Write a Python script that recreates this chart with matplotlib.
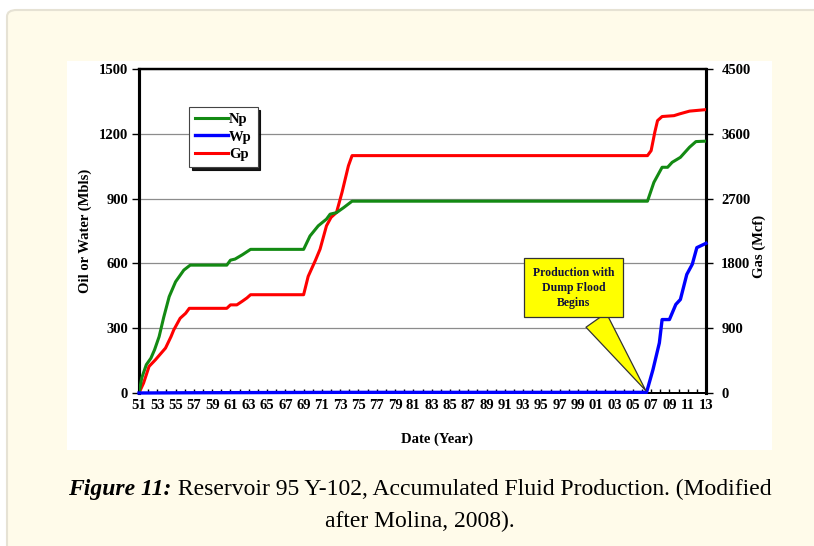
import matplotlib.pyplot as plt
from matplotlib.patches import FancyBboxPatch, Rectangle
from matplotlib.ticker import MultipleLocator

# cumulative oil (Np, Mbls)
np_year = [1951.0, 1951.3, 1951.8, 1952.3, 1952.7, 1953.2, 1953.7, 1954.3, 1955.0,
           1955.9, 1956.6, 1960.6, 1961.0, 1961.5, 1962.3, 1963.2, 1969.0, 1969.7,
           1970.6, 1971.5, 1971.9, 1972.6, 1973.4, 1974.3, 2006.6, 2007.3, 2008.2,
           2008.8, 2009.3, 2010.2, 2011.2, 2011.9, 2013.0]
np_vals = [0, 70, 131, 161, 200, 261, 350, 446, 515, 569, 592, 592, 615, 620, 640,
           665, 665, 727, 774, 805, 828, 835, 859, 888, 888, 975, 1045, 1045, 1068,
           1091, 1138, 1164, 1166]

# cumulative water (Wp, Mbls)
wp_year = [1951.0, 1956.0, 1973.0, 2006.5, 2007.2, 2007.9, 2008.2, 2009.0, 2009.7,
           2010.2, 2010.9, 2011.5, 2012.0, 2013.0]
wp_vals = [0, 1, 3, 3, 108, 232, 340, 340, 410, 433, 549, 596, 673, 693]

# cumulative gas (Gp, Mcf)
gp_year = [1951.0, 1951.5, 1952.1, 1952.8, 1953.9, 1954.5, 1954.8, 1955.5, 1956.1,
           1956.5, 1960.6, 1961.0, 1961.7, 1962.3, 1962.8, 1963.2, 1969.0, 1969.5,
           1970.3, 1970.8, 1971.5, 1972.0, 1972.6, 1973.2, 1973.9, 1974.3, 2006.6,
           2007.0, 2007.4, 2007.7, 2008.2, 2009.5, 2010.1, 2011.2, 2013.0]
gp_vals = [0, 138, 369, 462, 624, 783, 876, 1038, 1107, 1176, 1176, 1224, 1224, 1275,
           1320, 1365, 1365, 1620, 1845, 1998, 2322, 2439, 2508, 2787, 3156, 3297,
           3297, 3366, 3621, 3783, 3840, 3852, 3876, 3915, 3936]

year_ticks = list(range(1951, 2014, 2))
year_labels = [str(y)[-2:] for y in year_ticks]

serif = "Liberation Serif"
W, H = 814, 546

fig = plt.figure(figsize=(W / 100, H / 100), dpi=100, facecolor="white")

# cream page panel with a rounded corner, white plot card on top
fig.patches.append(FancyBboxPatch((7 / W, -0.05), 1.1, 1.05 - 10 / H,
                                  boxstyle="round,pad=0,rounding_size=0.012",
                                  transform=fig.transFigure, fc="#fffbea",
                                  ec="#e6e2d4", lw=1.5, zorder=-3))
fig.patches.append(Rectangle((67 / W, (H - 450) / H), (772 - 67) / W,
                             (450 - 61) / H, transform=fig.transFigure,
                             fc="white", ec="none", zorder=-2))

ax = fig.add_axes([139 / W, (H - 393) / H, 567 / W, 324 / H])
ax2 = ax.twinx()
ax.set_zorder(ax2.get_zorder() + 1)
ax.patch.set_visible(False)

# gas is plotted on the left axis in units scaled 1:3 so the legend holds all three
ax.plot(gp_year, [v / 3 for v in gp_vals], color="#ff0000", lw=2.2, label="_gp", zorder=3)
ax.plot(np_year, np_vals, color="#138a13", lw=2.2, label="Np", zorder=4)
ax.plot(wp_year, wp_vals, color="#0000ff", lw=2.4, label="Wp", zorder=5, clip_on=False)
ax.plot([], [], color="#ff0000", lw=2.2, label="Gp")

ax.set_xlim(1951, 2013)
ax.set_ylim(0, 1500)
ax2.set_ylim(0, 4500)
ax.set_yticks(range(0, 1501, 300))
ax2.set_yticks(range(0, 4501, 900))
ax.set_xticks(year_ticks)
ax.set_xticklabels(year_labels)
ax.xaxis.set_minor_locator(MultipleLocator(1))
ax.yaxis.grid(True, color="#8c8c8c", lw=0.9)
ax.set_axisbelow(True)

for a in (ax, ax2):
    for lbl in a.get_xticklabels() + a.get_yticklabels():
        lbl.set_fontfamily(serif)
        lbl.set_fontweight("bold")
        lbl.set_fontsize(10.5)
ax.tick_params(axis="x", which="both", direction="in", length=3, width=1, pad=4)
ax.tick_params(axis="y", direction="out", length=5, width=1, pad=3)
ax2.tick_params(axis="y", direction="out", length=5, width=1, pad=6)

for a in (ax, ax2):
    a.spines["left"].set_linewidth(2.2)
    a.spines["right"].set_linewidth(2.2)
    a.spines["top"].set_linewidth(1.6)
    a.spines["bottom"].set_linewidth(1.4)

fig.text(85 / W, 1 - 231 / H, "Oil or Water (Mbls)", rotation=90, ha="center",
         va="center", family=serif, weight="bold", size=10.5)
fig.text(759 / W, 1 - 246 / H, "Gas (Mcf)", rotation=90, ha="center",
         va="center", family=serif, weight="bold", size=10.5)
fig.text(437 / W, 1 - 439 / H, "Date (Year)", ha="center", va="center",
         family=serif, weight="bold", size=10.5)

leg = ax.legend(loc="upper left", bbox_to_anchor=(0.088, 0.883), borderaxespad=0,
                fancybox=False, framealpha=1, edgecolor="#444444", handlelength=2.3,
                handletextpad=0.05, labelspacing=0.3, borderpad=0.4,
                shadow={"color": "black", "alpha": 0.9},
                prop={"family": serif, "weight": "bold", "size": 10.5})
leg.get_frame().set_linewidth(0.8)

ax.annotate("Production with\nDump Flood\nBegins", xy=(2006.6, 0), xytext=(1998.5, 487),
            ha="center", va="center", family=serif, weight="bold", size=8.5,
            color="#10103c", linespacing=1.3, zorder=10,
            bbox=dict(boxstyle="square,pad=0.75", fc="#ffff00", ec="#333333", lw=0.9),
            arrowprops=dict(arrowstyle="wedge,tail_width=2.1,shrink_factor=0.5",
                            fc="#ffff00", ec="#333333", lw=0.9))

# caption: bold-italic figure number followed by regular text, centred as one line
cap_y = 1 - 489 / H
t_num = fig.text(0, cap_y, "Figure 11:", ha="left", va="center", size=17,
                 family=serif, weight="bold", style="italic")
t_rest = fig.text(0, cap_y, " Reservoir 95 Y-102, Accumulated Fluid Production. (Modified",
                  ha="left", va="center", size=17, family=serif)
renderer = fig.canvas.get_renderer()
w_num = t_num.get_window_extent(renderer).width
w_rest = t_rest.get_window_extent(renderer).width
x0 = 420 - (w_num + w_rest) / 2
t_num.set_x(x0 / W)
t_rest.set_x((x0 + w_num) / W)
fig.text(420 / W, 1 - 521 / H, "after Molina, 2008).", ha="center", va="center",
         size=17, family=serif)

fig.savefig("out.png", dpi=100)
